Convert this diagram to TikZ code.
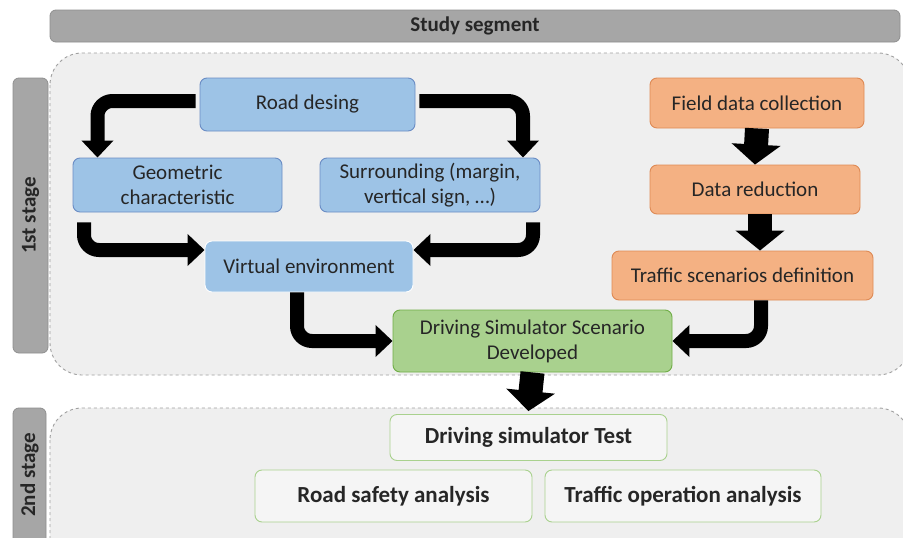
\documentclass[tikz,border=0pt]{standalone}
\usepackage{fontspec}
\setmainfont{Carlito}
\usetikzlibrary{arrows.meta}
\definecolor{txt}{HTML}{262626}
\definecolor{bluefill}{HTML}{9DC3E6}
\definecolor{blueline}{HTML}{6A8CC4}
\definecolor{orfill}{HTML}{F4B183}
\definecolor{orline}{HTML}{DE8A55}
\definecolor{grfill}{HTML}{A9D18E}
\definecolor{grline}{HTML}{70AD47}
\definecolor{lgrline}{HTML}{A9D18E}
\definecolor{barfill}{HTML}{A6A6A6}
\definecolor{barline}{HTML}{8F8F8F}
\definecolor{regfill}{HTML}{EFEFEF}
\definecolor{regline}{HTML}{A0A0A0}
\tikzset{
  base/.style={rounded corners=7pt, align=center, text=txt, inner sep=2pt,
    font=\fontsize{21}{25}\selectfont, line width=0.9pt},
  bluebox/.style={base, fill=bluefill, draw=blueline},
  orbox/.style={base, fill=orfill, draw=orline},
  grbox/.style={base, fill=grfill, draw=grline},
  resbox/.style={base, fill=regfill!60!white, draw=lgrline, font=\bfseries\fontsize{23}{27}\selectfont},
  bar/.style={fill=barfill, draw=barline, line width=0.8pt, rounded corners=6pt},
  region/.style={fill=regfill, draw=regline, dashed, line width=0.9pt, rounded corners=32pt},
  bent/.style={line width=14pt, black, rounded corners=15pt, -{Triangle[width=31pt,length=17pt]}},
  fat/.style={line width=24pt, black, -{Triangle[width=48pt,length=20pt]}},
  barlabel/.style={text=txt, font=\bfseries\fontsize{21}{25}\selectfont}
}
\begin{document}
\begin{tikzpicture}[x=1pt,y=-1pt]
\clip (0,0) rectangle (903,538);
\fill[white] (0,0) rectangle (903,538);
% title bar
\draw[bar] (50,10) rectangle (900,42);
\node[barlabel] (title) at (475,26) {Study segment};
% regions
\draw[region] (50,53) rectangle (910,375);
\draw[region] (50,408) rectangle (910,580);
% stage bars
\draw[bar] (13,78) rectangle (48,353);
\node[barlabel, rotate=90] (s1) at (30.5,215.5) {1st stage};
\draw[bar] (13,408) rectangle (46,560);
\node[barlabel, rotate=90] (s2) at (29.5,475) {2nd stage};
% nodes
\node[bluebox, minimum width=215pt, minimum height=53pt] (road) at (307.5,104.5) {Road desing};
\node[bluebox, minimum width=209pt, minimum height=54pt] (geo) at (177.5,185) {Geometric\\characteristic};
\node[bluebox, minimum width=220pt, minimum height=54pt] (sur) at (430,185) {Surrounding (margin,\\vertical sign, …)};
\node[bluebox, draw=white, minimum width=208pt, minimum height=51pt] (virt) at (309,266.5) {Virtual environment};
\node[orbox, minimum width=214pt, minimum height=50pt] (field) at (757,103) {Field data collection};
\node[orbox, minimum width=210pt, minimum height=49pt] (red) at (755,189.5) {Data reduction};
\node[orbox, minimum width=261pt, minimum height=49pt] (traf) at (742.5,275.5) {Traffic scenarios definition};
\node[grbox, minimum width=279pt, minimum height=62pt] (dss) at (532.5,341) {Driving Simulator Scenario\\Developed};
\node[resbox, minimum width=277pt, minimum height=46pt] (dst) at (528.5,437.5) {Driving simulator Test};
\node[resbox, minimum width=277pt, minimum height=52pt] (rsa) at (393.5,496) {Road safety analysis};
\node[resbox, minimum width=276pt, minimum height=52pt] (toa) at (683,496) {Traffic operation analysis};
% connectors
\draw[bent] ([xshift=-4pt,yshift=3.5pt]road.west) -| ([xshift=-80pt]geo.north);
\draw[bent] ([xshift=4pt,yshift=3.5pt]road.east) -| ([xshift=93pt]sur.north);
\draw[bent] ([xshift=-93.5pt,yshift=-10pt]geo.south) |- ([yshift=16.5pt]virt.west);
\draw[bent] ([xshift=103pt,yshift=-10pt]sur.south) |- ([yshift=16.5pt]virt.east);
\draw[bent] ([xshift=-12pt]virt.south) |- (dss.west);
\draw[bent] ([xshift=18.5pt]traf.south) |- (dss.east);
\draw[fat] (field.south) -- (red.north);
\draw[fat] ([xshift=5pt]red.south) -- ([xshift=5pt]red.south |- traf.north);
\draw[fat] (dss.south) -- ([yshift=3pt]dst.north);
\end{tikzpicture}
\end{document}
